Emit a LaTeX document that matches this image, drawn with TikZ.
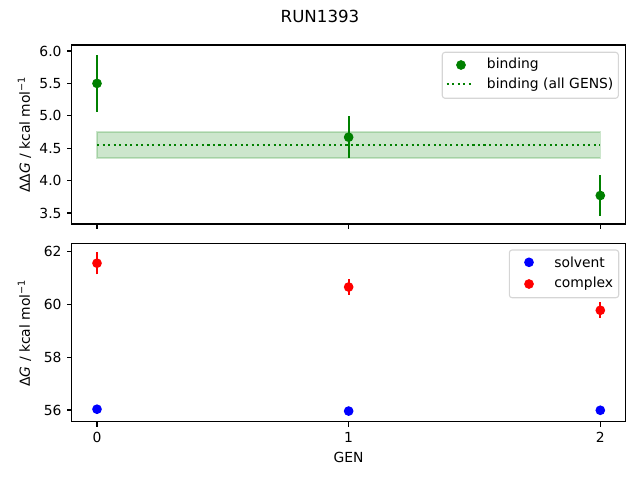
\documentclass[tikz,border=0pt]{standalone}
\usepackage{fontspec}
\setmainfont{DejaVu Sans}
\usepackage{tikz}
\usetikzlibrary{positioning}
\definecolor{mplgreen}{HTML}{008000}
\definecolor{mplblue}{HTML}{0000FF}
\definecolor{mplred}{HTML}{FF0000}
\definecolor{legendedge}{HTML}{CCCCCC}
\tikzset{
  frame/.style={line width=0.8pt},
  tick/.style={line width=0.8pt},
  ticklabel/.style={inner sep=0pt, font=\fontsize{10}{12}\selectfont},
  errbar/.style={line width=1.5pt},
  bandline/.style={line width=1.5pt, dash pattern=on 1.5pt off 2.475pt},
  legendbox/.style={draw=legendedge, line width=0.8pt, fill=white,
    fill opacity=0.8, draw opacity=0.8, rounded corners=2pt},
  legendtext/.style={anchor=west, inner sep=0pt, font=\fontsize{10}{12}\selectfont},
}

\begin{document}
\begin{tikzpicture}[x=0.72pt, y=-0.72pt]
  \useasboundingbox (0,0) rectangle (640,480);
  % Titulo
  \node[font=\fontsize{12}{14}\selectfont] (title) at (320,16) {RUN1393};

  % Panel de arriba (binding)
  \begin{scope}[shift={(97,439.8)}, x=181.19pt, y=46.656pt]
    \filldraw[mplgreen, opacity=0.2, line width=1pt] (0,4.35) rectangle (2,4.75);
    \draw[mplgreen, bandline] (0,4.55) -- (2,4.55);
    % Barras de error
    \draw[mplgreen, errbar] (0,5.06) -- (0,5.94);
    \draw[mplgreen, errbar] (1,4.35) -- (1,4.99);
    \draw[mplgreen, errbar] (2,3.46) -- (2,4.08);
    \foreach \g/\v in {0/5.50, 1/4.67, 2/3.77}
      \fill[mplgreen] (\g,\v) circle[radius=3.5pt];
    % Ejes
    \draw[frame] (-0.1,3.33) rectangle (2.1,6.093);
    \foreach \v in {3.5,4.0,4.5,5.0,5.5,6.0}
      \draw[tick] (-0.1,\v) -- ++(-3.5pt,0) node[ticklabel, left=3.5pt] {\v};
    \foreach \g in {0,1,2}
      \draw[tick] (\g,3.33) -- ++(0,-3.5pt);
  \end{scope}
  \node[rotate=90] (ylabtop) at (24.5,134.5) {ΔΔ\textit{G} / kcal mol\textsuperscript{−1}};

  % Leyenda de arriba
  \draw[legendbox] (442.3,52.3) rectangle (618.3,98.3);
  \fill[mplgreen] (461,65) circle[radius=3.5pt];
  \node[legendtext] (legbind) at (486.7,65) {binding};
  \draw[mplgreen, bandline] (446.7,84.3) -- (474.3,84.3);
  \node[legendtext] (legall) at (486.7,84.3) {binding (all GENS)};

  % Panel de abajo (solvent, complex)
  \begin{scope}[shift={(97,1891.2)}, x=181.19pt, y=19.044pt]
    \draw[mplred, errbar] (0,61.13) -- (0,61.97);
    \draw[mplred, errbar] (1,60.35) -- (1,60.95);
    \draw[mplred, errbar] (2,59.49) -- (2,60.07);
    \foreach \g/\v in {0/56.03, 1/55.96, 2/55.99}
      \fill[mplblue] (\g,\v) circle[radius=3.5pt];
    \foreach \g/\v in {0/61.55, 1/60.65, 2/59.77}
      \fill[mplred] (\g,\v) circle[radius=3.5pt];
    % Ejes
    \draw[frame] (-0.1,55.55) rectangle (2.1,62.28);
    \foreach \v in {56,58,60,62}
      \draw[tick] (-0.1,\v) -- ++(-3.5pt,0) node[ticklabel, left=3.5pt] {\v};
    \foreach \g in {0,1,2}
      \draw[tick] (\g,55.55) -- ++(0,-3.5pt) node[ticklabel, below=3.5pt] {\g};
  \end{scope}
  \node[rotate=90] (ylabbot) at (24.5,333) {Δ\textit{G} / kcal mol\textsuperscript{−1}};
  \node (xlab) at (348.6,457) {GEN};

  % Leyenda de abajo
  \draw[legendbox] (509.3,250) rectangle (618.7,297.7);
  \fill[mplblue] (529,262.3) circle[radius=3.5pt];
  \node[legendtext] (legsolv) at (554,262.3) {solvent};
  \fill[mplred] (529,284) circle[radius=3.5pt];
  \node[legendtext] (legcomp) at (554,284) {complex};
\end{tikzpicture}
\end{document}
